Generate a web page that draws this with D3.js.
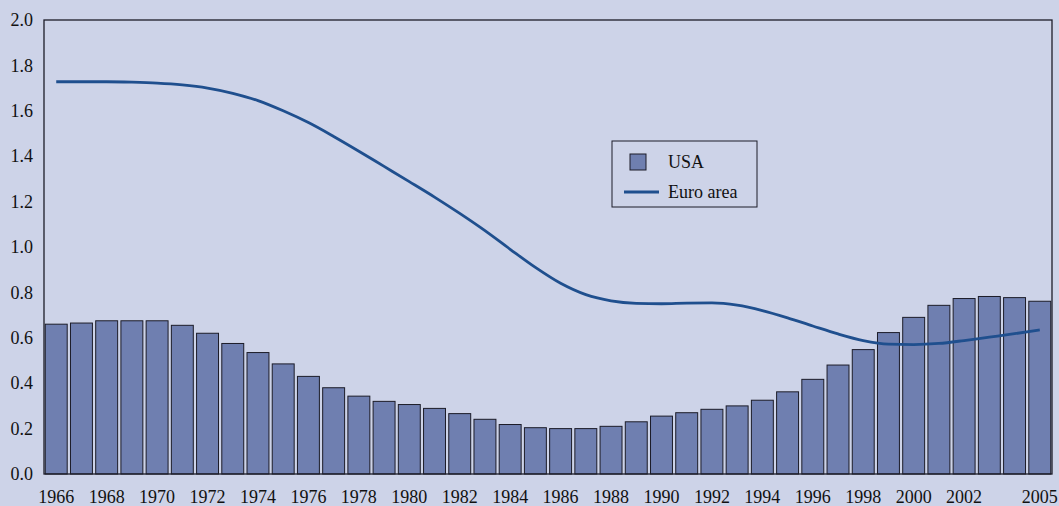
<!DOCTYPE html>
<html>
<head>
<meta charset="utf-8">
<script src="https://cdn.jsdelivr.net/npm/d3@7"></script>
<style>
  html, body { margin: 0; padding: 0; background: #cdd3e8; overflow: hidden; }
  text { font-family: "Liberation Serif", "Times New Roman", serif; }
</style>
</head>
<body>
<div id="wrapper"></div>
<script>
// years 1966 .. 2005
const years = d3.range(1966, 2006)

// USA (bars)
const usaValues = [
  0.66, 0.665, 0.675, 0.675, 0.675, 0.655, 0.62, 0.575, 0.535, 0.485,
  0.43, 0.38, 0.343, 0.32, 0.306, 0.289, 0.266, 0.241, 0.218, 0.204,
  0.2, 0.2, 0.21, 0.23, 0.255, 0.27, 0.285, 0.3, 0.325, 0.362,
  0.417, 0.48, 0.548, 0.623, 0.69, 0.743, 0.773, 0.782, 0.777, 0.761
]

// Euro area (line)
const euroValues = [
  1.728, 1.728, 1.728, 1.726, 1.722, 1.714, 1.700, 1.677, 1.645, 1.600,
  1.548, 1.487, 1.422, 1.355, 1.288, 1.220, 1.148, 1.072, 0.990, 0.910,
  0.840, 0.790, 0.763, 0.752, 0.750, 0.753, 0.754, 0.744, 0.720, 0.688,
  0.652, 0.617, 0.588, 0.572, 0.570, 0.575, 0.588, 0.603, 0.618, 0.635
]

const yTicks = [0, 0.2, 0.4, 0.6, 0.8, 1.0, 1.2, 1.4, 1.6, 1.8, 2.0]
const xTickYears = [1966, 1968, 1970, 1972, 1974, 1976, 1978, 1980, 1982, 1984,
  1986, 1988, 1990, 1992, 1994, 1996, 1998, 2000, 2002, 2005]

const seriesNames = ["USA", "Euro area"]

const dataset = years.map((y, i) => ({ year: y, usa: usaValues[i], euro: euroValues[i] }))

//**** dimensions
const dimensions = {
  width: 1059,
  height: 506,
  margin: { top: 20, right: 7, bottom: 32, left: 44 }
}
dimensions.boundedWidth = dimensions.width - dimensions.margin.left - dimensions.margin.right
dimensions.boundedHeight = dimensions.height - dimensions.margin.top - dimensions.margin.bottom

const bg = "#cdd3e8"
const barColor = "#6f7fb0"
const lineColor = "#1f4f8e"
const frameColor = "#1c1c28"
const textColor = "#111111"

const svg = d3.select("#wrapper").append("svg")
  .attr("width", dimensions.width)
  .attr("height", dimensions.height)

svg.append("rect")
  .attr("width", dimensions.width)
  .attr("height", dimensions.height)
  .attr("fill", bg)

const bounds = svg.append("g")
  .attr("transform", `translate(${dimensions.margin.left}, ${dimensions.margin.top})`)

//**** scales
const xScale = d3.scaleBand()
  .domain(years)
  .range([0, dimensions.boundedWidth])
  .paddingInner(0.13)
  .paddingOuter(0.05)

const yScale = d3.scaleLinear()
  .domain([0, 2])
  .range([dimensions.boundedHeight, 0])

//**** bars
bounds.append("g")
  .selectAll("rect")
  .data(dataset)
  .join("rect")
  .attr("x", d => xScale(d.year))
  .attr("y", d => yScale(d.usa))
  .attr("width", xScale.bandwidth())
  .attr("height", d => yScale(0) - yScale(d.usa))
  .attr("fill", barColor)
  .attr("stroke", frameColor)
  .attr("stroke-width", 1)

//**** line
const lineGenerator = d3.line()
  .x(d => xScale(d.year) + xScale.bandwidth() / 2)
  .y(d => yScale(d.euro))
  .curve(d3.curveMonotoneX)

bounds.append("path")
  .datum(dataset)
  .attr("d", lineGenerator)
  .attr("fill", "none")
  .attr("stroke", lineColor)
  .attr("stroke-width", 2.8)

//**** frame
bounds.append("rect")
  .attr("width", dimensions.boundedWidth)
  .attr("height", dimensions.boundedHeight)
  .attr("fill", "none")
  .attr("stroke", frameColor)
  .attr("stroke-width", 1.3)

//**** axes
const yAxis = bounds.append("g")
  .call(d3.axisLeft(yScale).tickValues(yTicks).tickFormat(d3.format(".1f")).tickSize(0).tickPadding(11))
yAxis.select(".domain").remove()
yAxis.selectAll(".tick text")
  .attr("font-size", 18)
  .attr("fill", textColor)
  .attr("font-family", "Liberation Serif")

const xAxis = bounds.append("g")
  .attr("transform", `translate(0, ${dimensions.boundedHeight})`)
  .call(d3.axisBottom(xScale).tickValues(xTickYears).tickSize(0).tickPadding(16))
xAxis.select(".domain").remove()
xAxis.selectAll(".tick text")
  .attr("font-size", 18)
  .attr("fill", textColor)
  .attr("font-family", "Liberation Serif")

//**** legend
const legend = svg.append("g")
  .attr("transform", "translate(612, 141)")

legend.append("rect")
  .attr("width", 145)
  .attr("height", 66)
  .attr("fill", bg)
  .attr("stroke", frameColor)
  .attr("stroke-width", 1)

legend.append("rect")
  .attr("x", 18)
  .attr("y", 13)
  .attr("width", 16)
  .attr("height", 16)
  .attr("fill", barColor)
  .attr("stroke", frameColor)

legend.append("line")
  .attr("x1", 12)
  .attr("x2", 47)
  .attr("y1", 51)
  .attr("y2", 51)
  .attr("stroke", lineColor)
  .attr("stroke-width", 2.8)

legend.selectAll("text.lbl")
  .data(seriesNames)
  .join("text")
  .attr("class", "lbl")
  .attr("x", 56)
  .attr("y", (d, i) => i === 0 ? 27 : 57)
  .attr("font-size", 18)
  .attr("fill", textColor)
  .text(d => d)
</script>
</body>
</html>
